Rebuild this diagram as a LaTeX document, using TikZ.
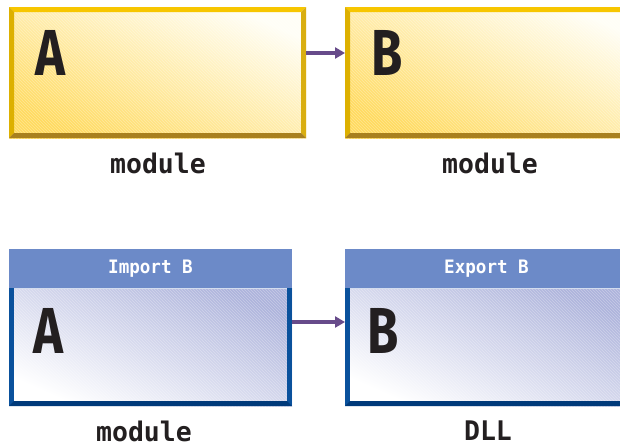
\documentclass[tikz,border=0pt]{standalone}
\usepackage{fontspec}
\usetikzlibrary{calc,patterns,arrows.meta}
\newfontfamily\letterfont[FakeStretch=0.78]{Fira Sans}
\newfontfamily\monofont[FakeStretch=0.98]{DejaVu Sans Mono}
\newfontfamily\hdrfont[FakeStretch=0.95]{DejaVu Sans Mono}
\definecolor{ytop}{HTML}{F7C600}
\definecolor{yleft}{HTML}{DDB000}
\definecolor{yright}{HTML}{D9AE10}
\definecolor{ybot}{HTML}{A8801E}
\definecolor{ylow}{HTML}{FFDB60}
\definecolor{yhigh}{HTML}{FFFEF6}
\definecolor{bside}{HTML}{0A519C}
\definecolor{bbot}{HTML}{003A7A}
\definecolor{bhdr}{HTML}{6C8AC8}
\definecolor{blow}{HTML}{FFFFFF}
\definecolor{bhigh}{HTML}{AEB4DC}
\definecolor{arrowc}{HTML}{674B8A}
\definecolor{ink}{HTML}{231F20}
\tikzset{
  ybox/.style={rectangle, inner sep=0pt, outer sep=0pt, minimum width=297pt, minimum height=131pt,
    shading=axis, bottom color=ylow, top color=yhigh, shading angle=-24},
  bbody/.style={rectangle, inner sep=0pt, outer sep=0pt, minimum width=283pt, minimum height=118pt,
    shading=axis, bottom color=blow, top color=bhigh, shading angle=-24},
  bheader/.style={rectangle, inner sep=0pt, outer sep=0pt, minimum width=283pt, minimum height=39pt,
    fill=bhdr, text=white, font=\hdrfont\bfseries\fontsize{18.5}{18.5}\selectfont},
  bigletter/.style={inner sep=0pt, text=ink, font=\letterfont\bfseries\fontsize{65}{65}\selectfont},
  caption/.style={inner sep=0pt, text=ink, font=\monofont\bfseries\fontsize{27}{27}\selectfont},
  conn/.style={draw=arrowc, line width=3.2pt, -{Triangle[length=10pt,width=11pt]}},
  hatch/.style={pattern=north west lines, pattern color=white, opacity=0.3}
}
\begin{document}
\begin{tikzpicture}[x=1pt,y=1pt]
\useasboundingbox (0,0) rectangle (620,-447);
\clip (0,0) rectangle (620,-447);
\fill[white] (0,0) rectangle (620,-447);
% ---------- top row ----------
\node[ybox, anchor=north west] (A1) at (9,-7) {};
\node[ybox, anchor=north west] (B1) at (345,-7) {};
\foreach \n in {A1,B1}{
  \fill[hatch] (\n.north west) rectangle (\n.south east);
  \fill[ytop] (\n.north west) -- (\n.north east) -- ++(-5,-5) -- ([shift={(5,-5)}]\n.north west) -- cycle;
  \fill[yleft] (\n.north west) -- ([shift={(5,-5)}]\n.north west) -- ([shift={(5,5)}]\n.south west) -- (\n.south west) -- cycle;
  \fill[yright] (\n.north east) -- ([shift={(-5,-5)}]\n.north east) -- ([shift={(-5,5)}]\n.south east) -- (\n.south east) -- cycle;
  \fill[ybot] (\n.south west) -- ([shift={(5,5)}]\n.south west) -- ([shift={(-5,5)}]\n.south east) -- (\n.south east) -- cycle;
}
\node[bigletter] (LA1) at (50,-53) {A};
\node[bigletter] (LB1) at (387,-53) {B};
\draw[conn] ([yshift=-46pt]A1.north east) -- ([yshift=-46pt]B1.north west);
\node[caption] (CA1) at (158,-163) {module};
\node[caption] (CB1) at (490,-163) {module};
% ---------- bottom row ----------
\node[bheader, anchor=north west] (HA2) at (9,-249) {Import B};
\node[bheader, anchor=north west] (HB2) at (345,-249) {Export B};
\node[bbody, anchor=north west] (A2) at (9,-288) {};
\node[bbody, anchor=north west] (B2) at (345,-288) {};
\foreach \n in {A2,B2}{
  \fill[hatch] (\n.north west) rectangle (\n.south east);
  \fill[bside] (\n.north west) rectangle ([shift={(5,0)}]\n.south west);
  \fill[bside] (\n.north east) rectangle ([shift={(-5,0)}]\n.south east);
  \fill[bbot] (\n.south west) -- ([shift={(5,5)}]\n.south west) -- ([shift={(-5,5)}]\n.south east) -- (\n.south east) -- cycle;
  \draw[white!70!bhdr, line width=0.8pt] ([shift={(5,0)}]\n.north west) -- ([shift={(-5,0)}]\n.north east);
}
\node[bigletter] (LA2) at (48,-331) {A};
\node[bigletter] (LB2) at (383,-331) {B};
\draw[conn] ([yshift=-34pt]A2.north east) -- ([yshift=-34pt]B2.north west);
\node[caption] (CA2) at (144,-431) {module};
\node[caption] (CB2) at (488,-431) {DLL};
\end{tikzpicture}
\end{document}
